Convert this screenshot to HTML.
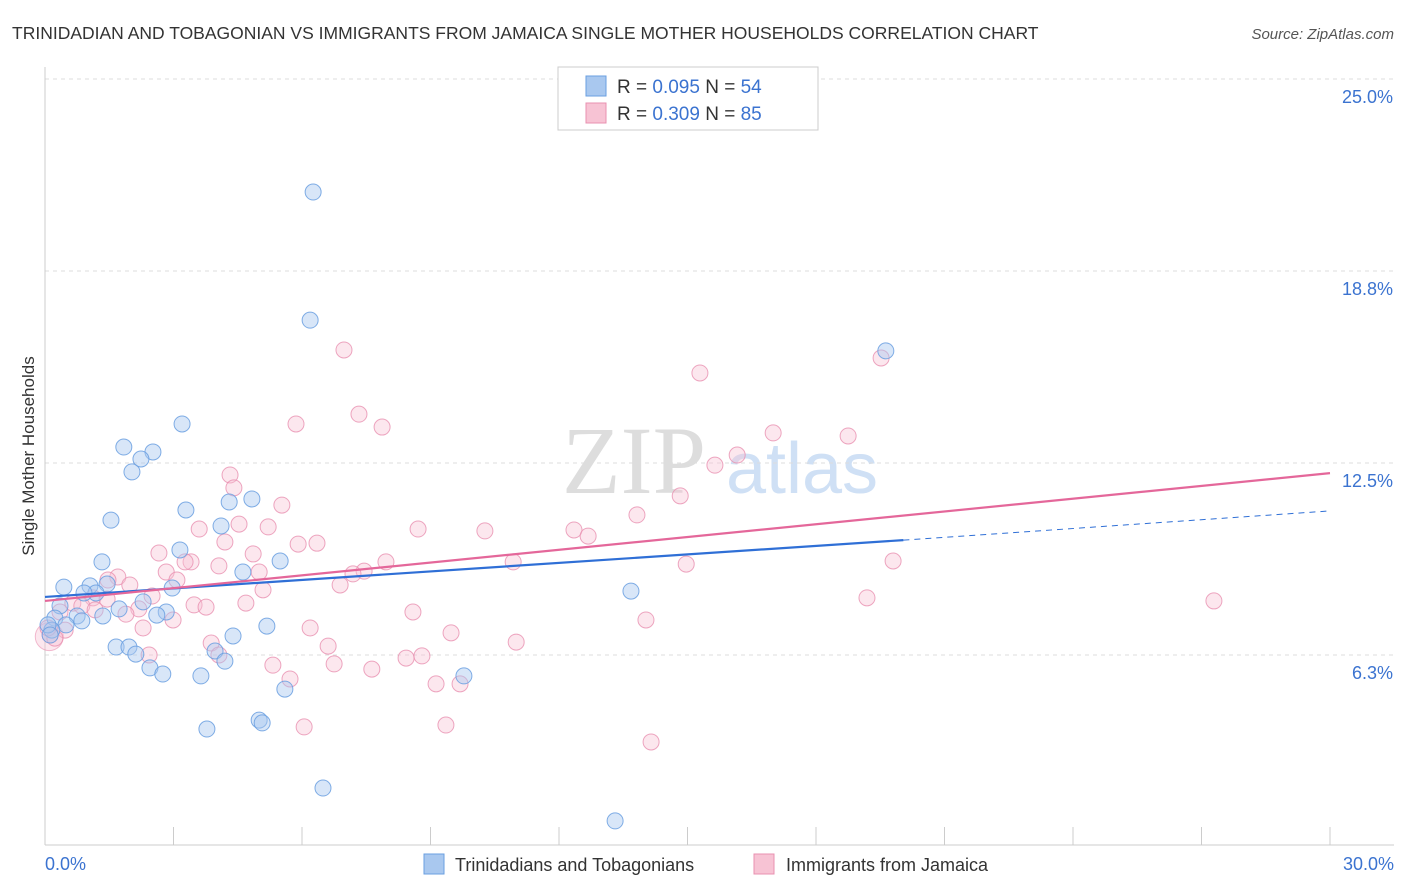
<!DOCTYPE html>
<html><head><meta charset="utf-8"><style>
body{margin:0;background:#fff;font-family:"Liberation Sans",sans-serif}
svg{display:block}
</style></head><body>
<svg id="chart" width="1406" height="892">
<text x="12" y="39" font-size="17.5" fill="#333">TRINIDADIAN AND TOBAGONIAN VS IMMIGRANTS FROM JAMAICA SINGLE MOTHER HOUSEHOLDS CORRELATION CHART</text>
<text x="1394" y="39" font-size="15" fill="#555" font-style="italic" text-anchor="end">Source: ZipAtlas.com</text>
<text x="634" y="493" font-size="96" fill="#ddd" font-family="Liberation Serif,serif" text-anchor="middle">ZIP</text>
<text x="802" y="493" font-size="72" fill="#cfe0f5" text-anchor="middle">atlas</text>
<g id="grid"></g>
<g id="axes"></g>
<g id="pts"></g>
<g id="lines"></g>
<text transform="translate(34,456) rotate(-90)" font-size="17" fill="#333" text-anchor="middle">Single Mother Households</text>
<g>
<rect x="558" y="67" width="260" height="63" fill="#fff" stroke="#ccc"/>
<rect x="586" y="76" width="20" height="20" fill="#a9c8ef" stroke="#6a9fe0"/>
<rect x="586" y="103" width="20" height="20" fill="#f7c3d4" stroke="#e990b0"/>
<text x="617" y="93" font-size="19" fill="#333">R = <tspan fill="#3b73d0">0.095</tspan>   N = <tspan fill="#3b73d0">54</tspan></text>
<text x="617" y="120" font-size="19" fill="#333">R = <tspan fill="#3b73d0">0.309</tspan>   N = <tspan fill="#3b73d0">85</tspan></text>
</g>
<g>
<rect x="424" y="854" width="20" height="20" fill="#a9c8ef" stroke="#6a9fe0"/>
<text x="455" y="871" font-size="18" fill="#333">Trinidadians and Tobagonians</text>
<rect x="754" y="854" width="20" height="20" fill="#f7c3d4" stroke="#e990b0"/>
<text x="786" y="871" font-size="18" fill="#333">Immigrants from Jamaica</text>
</g>
</svg>
<script>
const yTicks=[6.25,12.5,18.75,25];
const yTickLabels=["6.3%","12.5%","18.8%","25.0%"];
const xTickLabels=["0.0%","30.0%"];
const blueX=[6.26,6.19,19.63,3.20,1.84,2.52,2.24,2.03,1.54,3.29,4.30,4.83,4.11,3.15,1.33,5.49,4.62,0.44,1.05,1.45,2.97,1.19,0.91,13.68,2.29,0.35,1.73,2.83,2.61,0.75,1.35,0.86,0.23,0.49,0.16,5.18,4.39,1.66,1.96,2.12,3.97,4.20,2.45,2.75,3.64,9.78,5.60,5.00,5.07,3.78,6.49,13.31,0.07,0.12];
const blueY=[21.32,17.15,16.15,13.77,13.02,12.86,12.63,12.21,10.64,10.97,11.23,11.33,10.45,9.67,9.28,9.31,8.95,8.46,8.50,8.56,8.43,8.27,8.27,8.33,7.98,7.85,7.75,7.65,7.55,7.52,7.52,7.36,7.45,7.23,7.06,7.19,6.87,6.51,6.51,6.28,6.38,6.05,5.83,5.63,5.57,5.57,5.14,4.13,4.04,3.84,1.92,0.85,7.23,6.90];
const pinkX=[6.98,19.52,15.29,7.33,5.86,7.87,17.00,18.75,16.16,15.64,4.32,4.41,14.83,5.53,13.82,4.53,3.60,5.21,8.71,10.27,12.35,12.68,4.20,5.91,6.35,2.66,4.86,3.41,3.27,10.93,14.97,7.96,19.80,1.70,2.83,4.06,5.00,7.45,7.19,3.08,1.47,6.89,1.98,5.09,2.50,1.12,1.45,0.65,0.86,3.48,3.76,2.19,4.69,19.19,27.29,8.59,1.89,2.99,2.29,14.03,6.19,0.47,9.48,3.88,6.61,11.00,2.43,4.06,8.43,8.80,5.32,6.75,7.63,9.13,9.69,5.72,6.05,9.36,14.15,0.12,0.23,0.07,0.35,1.17];
const pinkY=[16.18,15.92,15.43,14.09,13.77,13.67,13.48,13.38,12.76,12.43,12.11,11.69,11.43,11.13,10.81,10.51,10.35,10.42,10.35,10.29,10.32,10.12,9.93,9.86,9.89,9.57,9.54,9.28,9.28,9.28,9.21,9.28,9.31,8.79,8.95,9.15,8.95,8.98,8.89,8.69,8.69,8.53,8.53,8.37,8.17,8.11,8.07,7.94,7.85,7.88,7.81,7.75,7.94,8.11,8.01,7.65,7.58,7.39,7.13,7.39,7.13,7.06,6.97,6.64,6.54,6.67,6.25,6.25,6.15,6.22,5.92,5.96,5.79,5.31,5.31,5.47,3.91,3.97,3.42,6.90,6.80,7.13,7.65,7.72];
const blueTrend=[8.14,9.99,10.94]; // at x=0, 20.04, 30
const blueTrendX=[0,20.04,30];
const pinkTrend=[8.01,12.17];
const pinkTrendX=[0,30];
const NS="http://www.w3.org/2000/svg";
const X0=45,X1=1330,XMAX=30;
const xs=v=>X0+(v/XMAX)*(X1-X0);
const ys=v=>655-(v-6.25)*192/6.25;
function mk(tag,attrs,parent){const e=document.createElementNS(NS,tag);for(const k in attrs)e.setAttribute(k,attrs[k]);parent.appendChild(e);return e;}
const grid=document.getElementById('grid'),axes=document.getElementById('axes'),pts=document.getElementById('pts'),lines=document.getElementById('lines');
yTicks.forEach((t,i)=>{
  const l=mk('line',{x1:45,x2:1394,y1:ys(t),y2:ys(t),stroke:'#ddd','stroke-dasharray':'4,4'},grid);
  
  
  const tx=mk('text',{x:1393,y:ys(t)+24,'font-size':18,fill:'#3b73d0','text-anchor':'end'},axes);
  tx.textContent=yTickLabels[i];
  
  
});
const ax=mk('line',{x1:45,x2:1394,y1:845,y2:845,stroke:'#ccc'},axes);


const ay=mk('line',{x1:45,x2:45,y1:67,y2:845,stroke:'#ccc'},axes);


for(let i=0;i<=10;i++){
  const v=i*3;
  const t=mk('line',{x1:xs(v),x2:xs(v),y1:827,y2:845,stroke:'#ccc'},axes);
  
  
}
[[0,'start',45],[30,'end',1394]].forEach((d,i)=>{
  const tx=mk('text',{x:d[2],y:870,'font-size':18,fill:'#3b73d0','text-anchor':d[1]},axes);
  tx.textContent=xTickLabels[i];
  
  
});
const big=mk('circle',{cx:xs(0.1),cy:ys(6.85),r:14,fill:'#f7c3d4','fill-opacity':0.4,stroke:'#e990b0','stroke-opacity':0.6},pts);


pinkX.forEach((x,i)=>{
  const c=mk('circle',{cx:xs(x),cy:ys(pinkY[i]),r:8,fill:'#f7c3d4','fill-opacity':0.4,stroke:'#e990b0','stroke-opacity':0.8},pts);
  
  
});
blueX.forEach((x,i)=>{
  const c=mk('circle',{cx:xs(x),cy:ys(blueY[i]),r:8,fill:'#a9c8ef','fill-opacity':0.45,stroke:'#6a9fe0','stroke-opacity':0.85},pts);
  
  
});
const bl=mk('line',{x1:xs(blueTrendX[0]),y1:ys(blueTrend[0]),x2:xs(blueTrendX[1]),y2:ys(blueTrend[1]),stroke:'#2f6fd6','stroke-width':2.2},lines);


const bd=mk('line',{x1:xs(blueTrendX[1]),y1:ys(blueTrend[1]),x2:xs(blueTrendX[2]),y2:ys(blueTrend[2]),stroke:'#2f6fd6','stroke-width':1,'stroke-dasharray':'6,5'},lines);


const pl=mk('line',{x1:xs(pinkTrendX[0]),y1:ys(pinkTrend[0]),x2:xs(pinkTrendX[1]),y2:ys(pinkTrend[1]),stroke:'#e4679a','stroke-width':2.2},lines);


</script>
</body></html>
